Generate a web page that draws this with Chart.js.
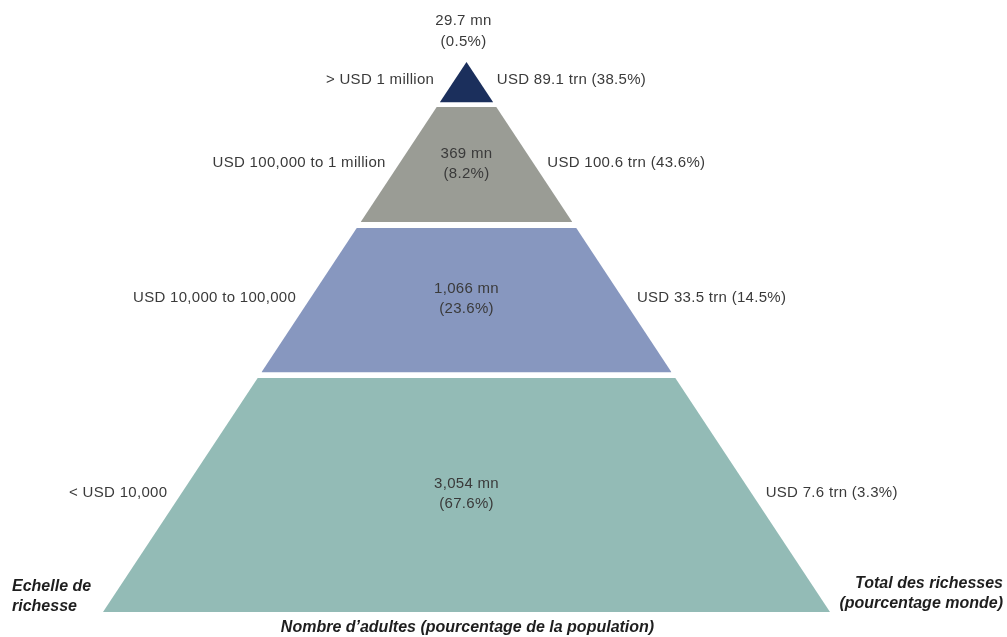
<!DOCTYPE html>
<html>
<head>
<meta charset="utf-8">
<script src="https://cdn.jsdelivr.net/npm/chart.js@4.4.1/dist/chart.umd.min.js"></script>
<style>
  html, body { margin: 0; padding: 0; background: #ffffff; }
  #wrap { width: 1007px; height: 637px; }
</style>
</head>
<body>
<div id="wrap"><canvas id="c" width="1007" height="637"></canvas></div>
<script>
// ---- data ----
const wealthBands = ['> USD 1 million', 'USD 100,000 to 1 million', 'USD 10,000 to 100,000', '< USD 10,000'];
const adultsMn = [29.7, 369, 1066, 3054];
const adultsPct = [0.5, 8.2, 23.6, 67.6];
const wealthTrn = [89.1, 100.6, 33.5, 7.6];
const wealthPct = [38.5, 43.6, 14.5, 3.3];
const axisLeft = ['Echelle de', 'richesse'];
const axisRight = ['Total des richesses', '(pourcentage monde)'];
const axisBottom = 'Nombre d\u2019adultes (pourcentage de la population)';

// ---- layout / style (pyramid units: base half-width 1, apex height 1) ----
const tierTop = [1.0, 0.918, 0.698, 0.4255];
const tierBottom = [0.927, 0.709, 0.436, 0.0];
const tierColors = ['#1b2f5c', '#9a9c95', '#8797bf', '#93bbb6'];
const labelFont = '15px "Liberation Sans", Arial, sans-serif';
const axisFont = 'italic bold 16px "Liberation Sans", Arial, sans-serif';
const textColor = '#3a3a3a';

const fmtMn = v => v.toLocaleString('en-US') + ' mn';
const fmtPct = v => '(' + v.toFixed(1) + '%)';

const datasets = wealthBands.map((band, i) => {
  const t = tierTop[i], b = tierBottom[i];
  return {
    label: band,
    data: [
      { x: -(1 - b), y: b },
      { x: -(1 - t), y: t },
      { x: (1 - t), y: t },
      { x: (1 - b), y: b }
    ],
    borderWidth: 0,
    borderColor: tierColors[i],
    backgroundColor: tierColors[i],
    pointRadius: 0,
    fill: { value: b },
    tension: 0,
    clip: false
  };
});

const labelPlugin = {
  id: 'pyramidLabels',
  afterDatasetsDraw(chart) {
    const ctx = chart.ctx;
    const xs = chart.scales.x, ys = chart.scales.y;
    ctx.save();
    ctx.font = labelFont;
    ctx.fillStyle = textColor;
    ctx.textBaseline = 'middle';
    if ('letterSpacing' in ctx) ctx.letterSpacing = '0.3px';
    const gap = 13;
    wealthBands.forEach((band, i) => {
      const mid = (tierTop[i] + tierBottom[i]) / 2;
      const py = ys.getPixelForValue(mid) - 2;
      const hw = 1 - mid;
      const lx = xs.getPixelForValue(-hw) - (i === 0 ? gap + 6 : gap);
      const rx = xs.getPixelForValue(hw) + (i === 0 ? gap + 4 : gap);
      ctx.textAlign = 'right';
      ctx.fillText(band, lx, py);
      ctx.textAlign = 'left';
      ctx.fillText('USD ' + wealthTrn[i] + ' trn ' + fmtPct(wealthPct[i]), rx, py);
      ctx.textAlign = 'center';
      const cx = xs.getPixelForValue(0);
      if (i === 0) {
        const apex = ys.getPixelForValue(tierTop[0]);
        ctx.fillText(fmtMn(adultsMn[i]), cx - 3, apex - 41);
        ctx.fillText(fmtPct(adultsPct[i]), cx - 3, apex - 20);
      } else {
        ctx.fillText(fmtMn(adultsMn[i]), cx, py - 9);
        ctx.fillText(fmtPct(adultsPct[i]), cx, py + 11);
      }
    });
    // axis captions
    const base = ys.getPixelForValue(0);
    ctx.font = axisFont;
    ctx.fillStyle = '#1e1e1e';
    if ('letterSpacing' in ctx) ctx.letterSpacing = '0px';
    ctx.textAlign = 'left';
    ctx.fillText(axisLeft[0], 12, base - 25);
    ctx.fillText(axisLeft[1], 12, base - 5);
    ctx.textAlign = 'right';
    ctx.fillText(axisRight[0], chart.width - 4, base - 28);
    ctx.fillText(axisRight[1], chart.width - 4, base - 8);
    ctx.textAlign = 'center';
    ctx.fillText(axisBottom, xs.getPixelForValue(0) + 1, base + 16);
    ctx.restore();
  }
};

new Chart(document.getElementById('c'), {
  type: 'line',
  data: { datasets },
  options: {
    responsive: false,
    animation: false,
    layout: { padding: 0 },
    plugins: { legend: { display: false }, tooltip: { enabled: false }, title: { display: false } },
    scales: {
      x: { type: 'linear', display: false, min: -466.5 / 363.5, max: (1007 - 466.5) / 363.5 },
      y: { type: 'linear', display: false, min: -25 / 550, max: 612 / 550 }
    }
  },
  plugins: [labelPlugin]
});
</script>
</body>
</html>
